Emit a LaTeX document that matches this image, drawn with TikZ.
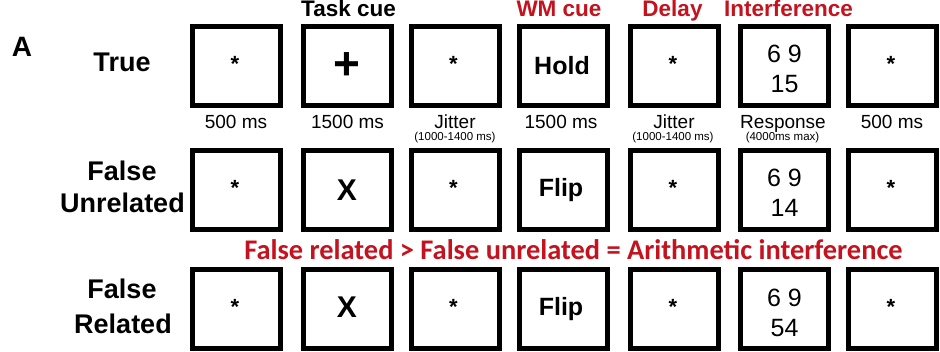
\documentclass[tikz,border=0pt]{standalone}
\usepackage{fontspec}
\setmainfont{Liberation Sans}
\newfontfamily\calib{Carlito}
\definecolor{cuered}{RGB}{196,18,30}
\begin{document}
\begin{tikzpicture}[x=1pt,y=-1pt,
  scr/.style={draw, line width=5pt, minimum width=88pt, minimum height=79pt, inner sep=0pt},
  ast/.style={inner sep=0pt, font=\fontsize{22}{22}\selectfont\bfseries},
  bw/.style={inner sep=0pt, font=\fontsize{25}{25}\selectfont\bfseries},
  bx/.style={inner sep=0pt, font=\fontsize{30}{30}\selectfont\bfseries},
  num/.style={inner sep=0pt, anchor=base, font=\fontsize{25}{25}\selectfont},
  hd/.style={inner sep=0pt, anchor=base, font=\fontsize{22.5}{22.5}\selectfont\bfseries},
  rhd/.style={hd, text=cuered},
  dur/.style={inner sep=0pt, anchor=base, font=\fontsize{19}{19}\selectfont},
  sm/.style={inner sep=0pt, anchor=base, font=\fontsize{11.5}{11.5}\selectfont},
  rl/.style={inner sep=0pt, anchor=base, font=\fontsize{27}{27}\selectfont\bfseries}]
\useasboundingbox (0,0) rectangle (940,351);
% screens
\foreach \y [count=\r] in {66,190,309}{
  \foreach \x [count=\c] in {236.5,347,455,563,674.5,784.5,892.5}{
    \node[scr] (b\r\c) at (\x,\y) {};
  }
}
% panel letter
\node[inner sep=0pt, anchor=base, font=\fontsize{28}{28}\selectfont\bfseries] (lA) at (22,56) {A};
% headers
\node[hd]  (h2) at (348.5,16) {Task cue};
\node[rhd] (h4) at (559,16) {WM cue};
\node[rhd] (h5) at (672.5,16) {Delay};
\node[rhd] (h6) at (788.5,16) {Interference};
% durations
\node[dur] (d1) at (236,128) {500 ms};
\node[dur] (d2) at (347.5,128) {1500 ms};
\node[dur] (d3) at (455,128) {Jitter};
\node[sm]  (e3) at (455,140) {(1000-1400 ms)};
\node[dur] (d4) at (561,128) {1500 ms};
\node[dur] (d5) at (674,128) {Jitter};
\node[sm]  (e5) at (673,140) {(1000-1400 ms)};
\node[dur] (d6) at (783,128) {Response};
\node[sm]  (e6) at (782.5,140) {(4000ms max)};
\node[dur] (d7) at (892,128) {500 ms};
% row labels
\node[rl] (r1) at (122,71) {True};
\node[rl] (r2a) at (122,180) {False};
\node[rl] (r2b) at (122.5,212) {Unrelated};
\node[rl] (r3a) at (122,298) {False};
\node[rl] (r3b) at (123,333) {Related};
% contrast text
\node[inner sep=0pt, anchor=base, text=cuered, font=\calib\fontsize{28.4}{28.4}\selectfont\bfseries] (ct) at (573.5,259) {False related > False unrelated = Arithmetic interference};
% screen contents
\foreach \r in {1,2,3}{
  \foreach \c in {1,3,5,7}{
    \node[ast] (a\r\c) at ([shift={(-1.5pt,2pt)}]b\r\c.center) {*};
  }
}
\node[inner sep=0pt, font=\fontsize{46}{46}\selectfont\bfseries] (p12) at (b12) {+};
\node[bx] (x22) at (b22) {X};
\node[bx] (x32) at ([yshift=2pt]b32.center) {X};
\node[bw] (w14) at ([xshift=-1pt]b14.center) {Hold};
\node[bw] (w24) at ([xshift=-2pt]b24.center) {Flip};
\node[bw] (w34) at ([xshift=-2pt]b34.center) {Flip};
\node[num] (n16a) at (784.5,62) {6 9};
\node[num] (n16b) at (784.5,92) {15};
\node[num] (n26a) at (784.5,186) {6 9};
\node[num] (n26b) at (784.5,216) {14};
\node[num] (n36a) at (784.5,306) {6 9};
\node[num] (n36b) at (784.5,336) {54};
\end{tikzpicture}
\end{document}
